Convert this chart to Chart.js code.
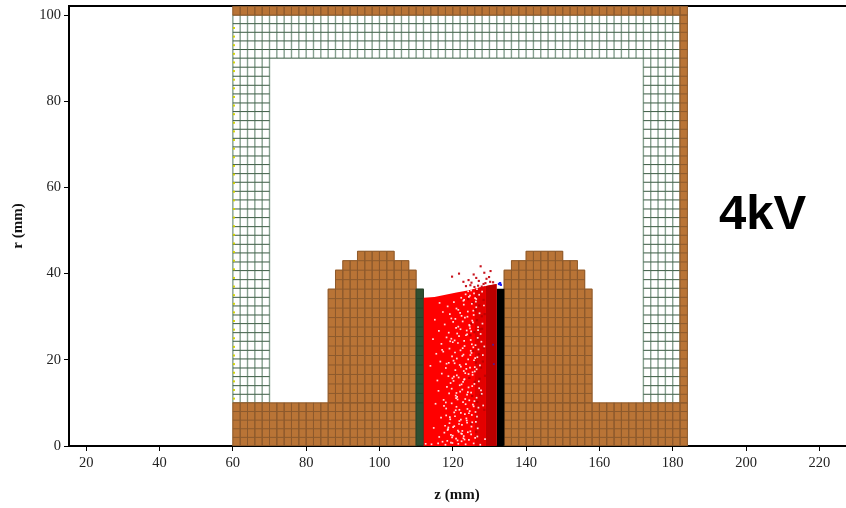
<!DOCTYPE html>
<html>
<head>
<meta charset="utf-8">
<title>4kV</title>
<script src="https://cdn.jsdelivr.net/npm/chart.js@4"></script>
<style>
  html, body { margin: 0; padding: 0; background: #fff; overflow: hidden; }
  #wrap { position: relative; width: 846px; height: 508px; overflow: hidden; }
  #label { position: absolute; left: 719px; top: 184px; font: bold 49px "Liberation Sans", Arial, sans-serif; color: #000; }
</style>
</head>
<body>
<div id="wrap">
  <canvas id="chart" width="849" height="508"></canvas>
  <div id="label">4kV</div>
</div>
<script>
const xTicks = [20, 40, 60, 80, 100, 120, 140, 160, 180, 200, 220];
const yTicks = [0, 20, 40, 60, 80, 100];

// cell rows, mm
const floorRows = [0, 2, 4, 6, 8, 10];
const electrodeRows = [10, 12.2, 14.4, 16.6, 18.8, 21, 23.2, 25.4, 27.6, 29.8, 32, 34.2, 36.4, 38.6, 40.8, 43, 45.2];
const wallRows = [10, 12, 14, 16.1, 18.1, 20.2, 22.2, 24.3, 26.3, 28.4, 30.4, 32.5, 34.5, 36.6, 38.6, 40.7, 42.7, 44.8, 46.8,
  48.9, 50.9, 53, 55, 57.1, 59.1, 61.2, 63.2, 65.3, 67.3, 69.4, 71.4, 73.5, 75.5, 77.6, 79.6, 81.7, 83.7, 85.8, 87.9, 90, 92, 94, 96, 98, 100];
const roofRows = [100, 102];

// column centres, mm
const floorZ = [61, 63, 65, 67, 69, 71, 73, 75, 77, 79, 81, 83, 85, 87, 89, 91, 93, 95, 97, 99, 101, 103, 105, 107, 109, 111,
  113, 115, 117, 119, 121, 123, 125, 127, 129, 131, 133, 135, 137, 139, 141, 143, 145, 147, 149, 151, 153, 155, 157, 159, 161,
  163, 165, 167, 169, 171, 173, 175, 177, 179, 181, 183];
const floorVisibleZ = floorZ.filter(z => z < 110 || z > 134);
const leftElectrodeZ = [87, 89, 91, 93, 95, 97, 99, 101, 103, 105, 107, 109];
const leftElectrodeTop = [36.4, 40.8, 43, 43, 45.2, 45.2, 45.2, 45.2, 45.2, 43, 43, 40.8];
const rightElectrodeZ = [135, 137, 139, 141, 143, 145, 147, 149, 151, 153, 155, 157];
const rightElectrodeTop = [40.8, 43, 43, 45.2, 45.2, 45.2, 45.2, 45.2, 43, 43, 40.8, 36.4];
const leftMeshZ = [61, 63, 65, 67, 69];
const rightMeshZ = [173, 175, 177, 179, 181];
const topMeshZ = [71, 73, 75, 77, 79, 81, 83, 85, 87, 89, 91, 93, 95, 97, 99, 101, 103, 105, 107, 109, 111, 113, 115, 117, 119, 121,
  123, 125, 127, 129, 131, 133, 135, 137, 139, 141, 143, 145, 147, 149, 151, 153, 155, 157, 159, 161, 163, 165, 167, 169, 171];
const outerWallZ = [183];
const dielectricZ = [111];
const cathodeZ = [133];
const gapTop = 36.4;

// plasma surface
const plasmaZ = [112, 115, 118, 121, 124, 127, 130, 132];
const plasmaTop = [34.4, 34.6, 35.1, 35.6, 36.1, 36.7, 37.3, 37.6];
const plasmaMidZ = [126, 129];
const plasmaMidTop = [36.5, 37.1];
const plasmaDarkZ = [129, 132];
const plasmaDarkTop = [37.1, 37.6];

// particles
const whiteZ = [123.5, 125, 125.8, 126.6, 124.4, 127.2, 122.3, 126.1, 128, 116.4, 118.6, 120.3, 121.5, 123, 124.1, 125.2, 126.4, 127.3,
  119.2, 122.4, 125.7, 117.3, 128.5, 115.1, 117.8, 119.6, 120.9, 122.7, 123.8, 125.3, 126.9, 128.1, 121.2, 124.6, 116.2, 118.9, 127.6,
  114.6, 116.9, 118.3, 120, 121.7, 123.2, 124.9, 126.2, 127.8, 119.1, 122.1, 125.6, 128.6, 115.5, 117.4, 119.8, 121.1, 122.9, 124.2,
  125.1, 126.7, 128.2, 120.5, 123.6, 116.6, 113.9, 118.1, 120.7, 122.2, 123.4, 124.7, 126, 127.4, 118.8, 121.6, 125.4, 117, 115.8,
  119.4, 120.2, 121.9, 123.1, 124.3, 125.9, 127.1, 122.6, 118.4, 116.1, 119, 120.8, 122, 123.9, 125, 126.5, 127.9, 121.3, 124.5,
  115.3, 117.6, 119.7, 121, 122.8, 124, 125.5, 127, 128.3, 120.4, 123.3, 118.2, 116.8, 119.3, 120.6, 121.8, 123.7, 125.2, 126.3,
  122.5, 117.9, 114.8, 118.7, 120.1, 121.4, 122.3, 124.8, 126.8, 119.5, 123, 116.3, 112.6, 114.2, 116, 118, 119.9, 121.5, 123.5,
  125.7, 127.5, 128.8, 118.5, 120.9, 122.4, 124.4, 126.1, 117.2,
  122.9, 124.7, 126.3, 123.3, 125.5, 121, 122.1, 124, 120.1, 123.9, 126.8, 125, 121.4, 123.1, 119.3, 124.9, 127, 122.6, 120.6, 125.8,
  118.9, 121.9, 123.7, 126.5, 124.3, 120.3, 122.8, 125.3, 119.7, 127.7, 121.2, 123.4, 125.9, 118.1, 124.6, 120.8, 122.2, 126.2, 123.8, 119.1,
  121.7, 125.1, 117.7, 124.1, 122.5, 120, 126.7, 123.2, 118.6, 121.3,
  124.2, 126.4, 123.1, 125.6, 122, 120.7, 124.5, 126.9, 121.5, 123.6, 125.2, 119.6, 122.7, 124.8, 120.2, 126.1, 118.3, 123, 121.1, 125.4,
  119.9, 122.4, 124.1, 127.2, 120.9, 123.5, 117.5, 125.7, 121.8, 119.2, 124.4, 122.2, 126.6, 120.4, 118.8, 123.9, 121.6, 125, 122.9, 119.5,
  124.7, 120.5, 117.1, 126, 123.2, 121, 118.2, 125.3, 122.6, 119.8];
const whiteR = [35.2, 36.1, 35.4, 36.4, 34.6, 35.1, 34.4, 34.3, 35.8, 33.2, 32.4, 33.4, 31.6, 32.8, 31.2, 33, 32.2, 30.8,
  30.6, 30.2, 30.4, 31.1, 32.6, 29.3, 28.2, 29.6, 27.4, 28.9, 26.8, 29.1, 27.6, 28.4, 26.1, 27.9, 26.7, 26.3, 26,
  24.8, 23.7, 25.2, 24.1, 25.5, 23.2, 24.6, 23.4, 24.2, 22.6, 22.2, 22.9, 23.1, 21.4, 21.9, 20.8, 20.3, 21.2, 20.1,
  21.6, 20.6, 21.1, 19.2, 19, 19.6, 18.6, 18.1, 17.6, 18.4, 16.9, 18.2, 17.3, 18.7, 16.2, 15.9, 16.5, 16.8, 15.2,
  14.6, 15.1, 14.1, 15.4, 13.6, 14.4, 15, 13.1, 13.7, 12.8, 12.2, 11.7, 12.6, 11.9, 12.4, 11.2, 12.1, 10.8, 10.6,
  9.8, 9.3, 9.9, 9.1, 10.2, 8.6, 9.6, 8.9, 9.4, 7.8, 7.4, 7.1, 6.6, 6.2, 6.9, 5.8, 6.4, 7.2, 5.6,
  4.9, 4.7, 4.2, 3.9, 4.4, 3.6, 2.9, 3.4, 4.1, 2.6, 2.3, 2.1, 0.5, 0.4, 0.6, 0.3, 0.7, 0.5, 0.4,
  0.6, 0.3, 1.6, 1.2, 1.7, 1.1, 1.4, 1.9, 1,
  33.7, 34.9, 33.5, 29.8, 28.7, 31.9, 27.1, 30, 28.8, 25.9, 25.1, 26.6, 23.9, 24.4, 24.3, 22.1, 22.4, 20.9, 21.7, 19.9,
  19.3, 18.8, 17.9, 17.8, 16.7, 16.1, 14.9, 13.9, 13.3, 12.9, 11.4, 10.9, 10.4, 10.1, 8.1, 8.3, 7.7, 7.9, 5.9, 5.3,
  5.1, 4.5, 3.1, 3.2, 2.8, 2.4, 2.2, 1.5, 3.7, 1.3,
  35.9, 34.1, 33.9, 31.4, 30.9, 29.5, 28.1, 26.9, 27.7, 25.7, 23.6, 24.9, 22.7, 21.1, 19.8, 20.4, 19.1, 17.4, 16.4, 17.1,
  15.7, 14.3, 12.5, 13.4, 11.1, 9.7, 10.7, 9.2, 8.4, 6.7, 7.6, 6.1, 6.8, 4.6, 4.3, 5.4, 3.3, 2.7, 1.8, 0.8,
  27.3, 24.5, 22.3, 18.3, 15.5, 12.3, 8.7, 5.5, 3.5, 2];
const darkZ = [124.2, 125.4, 126.1, 127.2, 127.9, 128.4, 125.1, 126.6, 127.5, 128.7, 124.8, 125.9, 126.9, 128, 127.1, 128.5, 125.6, 126.3,
  127.7, 128.2, 124.5, 126, 127.3, 128.8, 125.3, 126.7, 127.6, 128.6, 125, 126.4];
const darkR = [34.1, 33.2, 31.5, 32.6, 30.1, 33.9, 28.4, 29.2, 27.1, 30.6, 25.7, 26.4, 24.8, 27.2, 21.3, 22.8, 22.1, 19.4,
  18.2, 19.6, 15.8, 14.9, 15.6, 16.3, 11.6, 10.2, 11.9, 8.4, 5.2, 3.3];
const escapedZ = [130.3, 127.6, 121.7, 125.7, 128.6, 129.9, 126.4, 124.3, 122.9, 125.1, 127.1, 129.2, 128.4, 130.2, 124.8, 123.6, 126.9, 128.9, 131, 119.8, 125.9, 127.9];
const escapedR = [40.6, 41.7, 40, 39.8, 40.2, 39.2, 39, 38.5, 38.1, 37.9, 38.3, 38.8, 37.6, 38.1, 37.3, 37.1, 37.2, 37.8, 38, 39.3, 36.9, 37];
const ionZ = [132.6, 133.1, 132.9];
const ionR = [37.6, 37.4, 37.8];
const purpleZ = [131, 131.2];
const purpleR = [23.5, 19];
const yellowZ = [60.3, 60.3, 60.3, 60.3, 60.3, 60.3, 60.3, 60.3, 60.3, 60.3, 60.3, 60.3, 60.3, 60.3, 60.3, 60.3, 60.3, 60.3, 60.3, 60.3, 60.3, 60.3, 60.3,
  60.3, 60.3, 60.3, 60.3, 60.3, 60.3, 60.3, 60.3, 60.3, 60.3, 60.3, 60.3, 60.3, 60.3, 60.3, 60.3, 60.3, 60.3, 60.3, 60.3, 60.3];
const yellowR = [11, 13, 15, 17, 19, 21, 23, 25, 27, 29, 31, 33, 35, 37, 39, 41, 43, 45, 47, 49, 51, 53, 55, 57, 59, 61, 63, 65, 67, 69, 71, 73, 75, 77, 79,
  81, 83, 85, 87, 89, 91, 93, 95, 97];

const brown = '#b97436';
const brownLine = '#8d5a2d';
const meshRowLine = '#3a5a42';
const meshColLine = '#86a08f';
const green = '#2f4f31';

function columns(zs, lo, hi) {
  return zs.map((z, i) => ({ x: z, y: [lo, Array.isArray(hi) ? hi[i] : hi] }));
}

function points(zs, rs) {
  return zs.map((z, i) => ({ x: z, y: rs[i] }));
}

// vertical cell edges for a set of columns, broken with nulls
function colLines(zs, lo, hi) {
  const out = [];
  zs.forEach((z, i) => {
    const top = Array.isArray(hi) ? hi[i] : hi;
    out.push({ x: z - 1, y: lo }, { x: z - 1, y: top }, { x: null, y: null });
    out.push({ x: z + 1, y: lo }, { x: z + 1, y: top }, { x: null, y: null });
  });
  return out;
}

function rowLines(zs, lo, hi, rows) {
  const out = [];
  zs.forEach((z, i) => {
    const top = Array.isArray(hi) ? hi[i] : hi;
    rows.filter(r => r >= lo && r <= top).forEach(r => {
      out.push({ x: z - 1, y: r }, { x: z + 1, y: r }, { x: null, y: null });
    });
  });
  return out;
}

function cellLines(zs, lo, hi, rows) {
  return [...colLines(zs, lo, hi), ...rowLines(zs, lo, hi, rows)];
}

function solid(zs, lo, hi, color) {
  return {
    type: 'bar',
    data: columns(zs, lo, hi),
    backgroundColor: color,
    borderWidth: 0,
    barPercentage: 1,
    categoryPercentage: 1,
    grouped: false,
  };
}

function grid(data, color, width) {
  return { type: 'line', data, borderColor: color, borderWidth: width || 1, pointRadius: 0, spanGaps: false, tension: 0 };
}

function surface(zs, rs, color) {
  return { type: 'line', data: points(zs, rs), borderWidth: 0, pointRadius: 0, fill: 'origin', backgroundColor: color, tension: 0 };
}

function specks(zs, rs, color, radius) {
  return { type: 'scatter', data: points(zs, rs), showLine: false, pointStyle: 'rect', pointRadius: radius, pointBorderWidth: 0, backgroundColor: color };
}

const brownGrid = [
  ...cellLines(floorVisibleZ, 0, 10, floorRows),
  ...cellLines(leftElectrodeZ, 10, leftElectrodeTop, electrodeRows),
  ...cellLines(rightElectrodeZ, 10, rightElectrodeTop, electrodeRows),
  ...cellLines(outerWallZ, 10, 100, wallRows),
  ...cellLines(floorZ, 100, 102, roofRows),
];
const meshCols = [
  ...colLines(leftMeshZ, 10, 100),
  ...colLines(rightMeshZ, 10, 100),
  ...colLines(topMeshZ, 90, 100),
];
const meshRows = [
  ...rowLines(leftMeshZ, 10, 100, wallRows),
  ...rowLines(rightMeshZ, 10, 100, wallRows),
  ...rowLines(topMeshZ, 90, 100, wallRows),
];
const greenGrid = cellLines(dielectricZ, 0, gapTop, electrodeRows);

// paint order, back to front
const layers = [
  grid(meshCols, meshColLine, 1.4),
  grid(meshRows, meshRowLine, 1),
  solid(floorVisibleZ, 0, 10, brown),
  solid(leftElectrodeZ, 10, leftElectrodeTop, brown),
  solid(rightElectrodeZ, 10, rightElectrodeTop, brown),
  solid(outerWallZ, 10, 100, brown),
  solid(floorZ, 100, 102, brown),
  grid(brownGrid, brownLine),
  solid(dielectricZ, 0, gapTop, green),
  grid(greenGrid, '#274229'),
  solid(cathodeZ, 0, gapTop, '#000000'),
  surface(plasmaZ, plasmaTop, '#ff0000'),
  surface(plasmaMidZ, plasmaMidTop, '#e40000'),
  surface(plasmaDarkZ, plasmaDarkTop, '#bb0000'),
  specks(darkZ, darkR, '#c00000', 1.6),
  specks(whiteZ, whiteR, 'rgba(255,235,235,0.95)', 1.2),
  specks(escapedZ, escapedR, '#c8141e', 1.5),
  specks(ionZ, ionR, '#1a1aee', 1.6),
  specks(purpleZ, purpleR, '#5a1a8a', 1.3),
  specks(yellowZ, yellowR, '#cfcf00', 1.4),
];
layers.forEach((d, i) => { d.order = layers.length - i; });

new Chart(document.getElementById('chart'), {
  data: { datasets: layers },
  options: {
    responsive: false,
    animation: false,
    layout: { padding: { top: 6, right: 0, left: 0, bottom: 0 } },
    plugins: { legend: { display: false }, tooltip: { enabled: false } },
    scales: {
      x: {
        type: 'linear',
        offset: false,
        min: 15.3,
        max: 227,
        afterFit(scale) { scale.height = 62; scale.paddingRight = 0; scale.paddingLeft = 0; },
        afterBuildTicks(scale) { scale.ticks = xTicks.map(value => ({ value })); },
        grid: { display: true, offset: false, drawOnChartArea: false, drawTicks: true, tickLength: 5, color: '#000' },
        border: { display: true, color: '#000', width: 2 },
        ticks: { color: '#222', font: { family: 'Liberation Serif', size: 14.5 }, maxRotation: 0, padding: 3 },
        title: { display: true, text: 'z (mm)', color: '#111', font: { family: 'Liberation Serif', size: 15, weight: 'bold' }, padding: { top: 0, bottom: 4 } },
      },
      y: {
        type: 'linear',
        min: 0,
        max: 102.1,
        afterFit(scale) { scale.width = 69; scale.paddingTop = 0; scale.paddingBottom = 0; },
        afterBuildTicks(scale) { scale.ticks = yTicks.map(value => ({ value })); },
        grid: { display: true, drawOnChartArea: false, drawTicks: true, tickLength: 5, color: '#000' },
        border: { display: true, color: '#000', width: 2 },
        ticks: { color: '#222', font: { family: 'Liberation Serif', size: 14.5 }, padding: 3 },
        title: { display: true, text: 'r (mm)', color: '#111', font: { family: 'Liberation Serif', size: 15, weight: 'bold' }, padding: { top: 9, bottom: 0 } },
      },
      top: {
        type: 'linear',
        position: 'top',
        min: 15.3,
        max: 227,
        afterFit(scale) { scale.height = 0; scale.paddingRight = 0; scale.paddingLeft = 0; },
        afterBuildTicks(scale) { scale.ticks = []; },
        grid: { display: false },
        ticks: { display: false },
        border: { display: true, color: '#000', width: 2 },
      },
    },
  },
});
</script>
</body>
</html>
